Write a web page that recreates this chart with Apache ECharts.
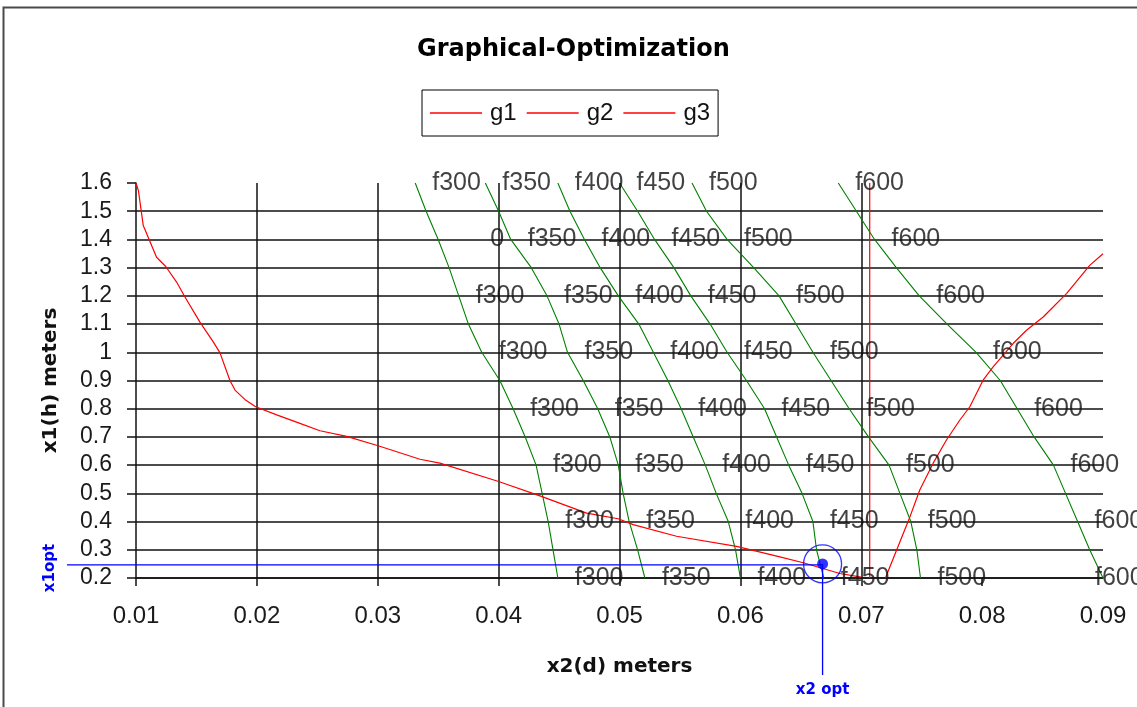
<!DOCTYPE html>
<html>
<head>
<meta charset="utf-8">
<script src="https://cdn.jsdelivr.net/npm/echarts@6/dist/echarts.min.js"></script>
<style>html,body{margin:0;padding:0;background:#fff;}#c{width:1137px;height:707px;}</style>
</head>
<body>
<div id="c"></div>
<script>
// ---- data ----
const xTicks = [0.01, 0.02, 0.03, 0.04, 0.05, 0.06, 0.07, 0.08, 0.09];
const yTicks = [0.2, 0.3, 0.4, 0.5, 0.6, 0.7, 0.8, 0.9, 1.0, 1.1, 1.2, 1.3, 1.4, 1.5, 1.6];
const rowsY = [1.6, 1.5, 1.4, 1.3, 1.2, 1.1, 1.0, 0.9, 0.8, 0.7, 0.6, 0.5, 0.4, 0.3, 0.2];
const labelRows = [1.6, 1.4, 1.2, 1.0, 0.8, 0.6, 0.4, 0.2];

const fNames = ['f300', 'f350', 'f400', 'f450', 'f500', 'f600'];
const f300X = [0.0331, 0.0340, 0.0350, 0.0359, 0.0367, 0.0375, 0.0386, 0.0401, 0.0412, 0.0422, 0.0431, 0.0436, 0.0441, 0.0445, 0.0449];
const f350X = [0.0389, 0.0400, 0.0410, 0.0427, 0.0440, 0.0450, 0.0457, 0.0470, 0.0482, 0.0492, 0.0499, 0.0503, 0.0508, 0.0515, 0.0521];
const f400X = [0.0449, 0.0459, 0.0471, 0.0484, 0.0499, 0.0516, 0.0528, 0.0540, 0.0551, 0.0561, 0.0571, 0.0580, 0.0590, 0.0596, 0.0600];
const f450X = [0.0500, 0.0515, 0.0529, 0.0545, 0.0559, 0.0575, 0.0589, 0.0605, 0.0620, 0.0630, 0.0640, 0.0651, 0.0660, 0.0663, 0.0669];
const f500X = [0.0560, 0.0572, 0.0589, 0.0611, 0.0632, 0.0646, 0.0660, 0.0675, 0.0690, 0.0706, 0.0723, 0.0732, 0.0741, 0.0746, 0.0749];
const f600X = [0.0681, 0.0696, 0.0711, 0.0729, 0.0748, 0.0771, 0.0795, 0.0815, 0.0829, 0.0843, 0.0859, 0.0869, 0.0879, 0.0889, 0.0900];
const fCurvesX = [f300X, f350X, f400X, f450X, f500X, f600X];
// label text/offset overrides: [curve, row, text, extra offset px]
const labelOverrides = [['f300', 1.4, '0', 35], ['f600', 0.2, 'f600', -25]];

const g1X = [0.0100, 0.0102, 0.0106, 0.0117, 0.01246, 0.01336, 0.01405, 0.01529, 0.01639, 0.01695, 0.01777, 0.01819, 0.0190, 0.0199, 0.02164, 0.02356, 0.02522, 0.02743, 0.0301, 0.03349, 0.03514, 0.0400, 0.04342, 0.04728, 0.04989, 0.05113, 0.05472, 0.05968, 0.06327, 0.0652, 0.06823, 0.0700];
const g1Y = [1.600, 1.573, 1.449, 1.337, 1.304, 1.249, 1.196, 1.107, 1.037, 0.998, 0.900, 0.866, 0.833, 0.807, 0.778, 0.748, 0.722, 0.702, 0.668, 0.621, 0.607, 0.542, 0.491, 0.430, 0.410, 0.389, 0.348, 0.312, 0.275, 0.254, 0.216, 0.203];
const g2X = [0.0707, 0.0707];
const g2Y = [0.2, 1.6];
const g3X = [0.0720, 0.07394, 0.07485, 0.07595, 0.07705, 0.07816, 0.07898, 0.08008, 0.08091, 0.08256, 0.08367, 0.08505, 0.08698, 0.0889, 0.0900];
const g3Y = [0.200, 0.407, 0.513, 0.607, 0.689, 0.760, 0.807, 0.901, 0.948, 1.031, 1.078, 1.125, 1.208, 1.308, 1.349];

const optX = 0.0668;
const optY = 0.25;

// ---- build ----
const REG = 'Liberation Sans';
const BOLD = 'DejaVu Sans';
const zip = (xs, ys) => xs.map((x, i) => [x, ys[i]]);

const series = [];
[['g1', g1X, g1Y], ['g2', g2X, g2Y], ['g3', g3X, g3Y]].forEach(([n, xs, ys]) => {
  series.push({
    name: n, type: 'line', data: zip(xs, ys), symbol: 'none', z: 4,
    lineStyle: { color: '#ff0000', width: 1.2 }, itemStyle: { color: '#ff0000' }
  });
});
fNames.forEach((n, k) => {
  series.push({
    name: n, type: 'line', data: zip(fCurvesX[k], rowsY), symbol: 'none', z: 3,
    lineStyle: { color: '#008000', width: 1.1 }, itemStyle: { color: '#008000' }
  });
});
const labelData = [];
fNames.forEach((n, k) => {
  labelRows.forEach(r => {
    const idx = rowsY.findIndex(v => Math.abs(v - r) < 1e-9);
    const ov = labelOverrides.find(o => o[0] === n && Math.abs(o[1] - r) < 1e-9);
    const item = { value: [fCurvesX[k][idx], r], name: ov ? ov[2] : n };
    if (ov) item.label = { offset: [ov[3], 0] };
    labelData.push(item);
  });
});
series.push({
  name: 'labels', type: 'scatter', data: labelData, symbolSize: 0, silent: true, z: 5,
  itemStyle: { color: 'rgba(0,0,0,0)' },
  label: {
    show: true, position: 'right', distance: 17, formatter: p => p.name,
    fontFamily: REG, fontSize: 25, color: '#111'
  }
});
series.push({
  name: 'optCircle', type: 'scatter', data: [[optX, optY]], symbolSize: 38, silent: true, z: 6,
  itemStyle: { color: 'rgba(0,0,0,0)', borderColor: '#0000ff', borderWidth: 1.3 }
});
series.push({
  name: 'opt', type: 'scatter', data: [[optX, optY]], symbolSize: 11, silent: true, z: 7,
  itemStyle: { color: '#0000ff' }
});

const chart = echarts.init(document.getElementById('c'), null, { renderer: 'canvas' });
const option = {
  animation: false,
  backgroundColor: '#fff',
  title: {
    text: 'Graphical-Optimization', left: 417, top: 38, padding: 0,
    textStyle: { fontFamily: BOLD, fontWeight: 'bold', fontSize: 24, color: '#000' }
  },
  legend: {
    data: ['g1', 'g2', 'g3'], left: 422, top: 90, orient: 'horizontal',
    borderColor: '#000', borderWidth: 1, padding: [11, 8, 11, 8],
    icon: 'rect', itemWidth: 52, itemHeight: 1.5, itemGap: 10,
    textStyle: { fontFamily: REG, fontSize: 24, color: '#111', padding: [0, 0, 0, 3] }
  },
  grid: { left: 136, top: 183, right: 34, bottom: 129, containLabel: false },
  xAxis: {
    type: 'value', min: 0.01, max: 0.09, interval: 0.01,
    name: 'x2(d) meters', nameLocation: 'middle', nameGap: 79,
    nameTextStyle: { fontFamily: BOLD, fontWeight: 'bold', fontSize: 20, color: '#111' },
    axisLine: { show: true, onZero: false, lineStyle: { color: '#111', width: 1.5 } },
    axisTick: { show: true, inside: false, length: 8, customValues: xTicks.slice(0, 8), lineStyle: { color: '#111', width: 1.5 } },
    axisLabel: { customValues: xTicks, margin: 26, fontFamily: REG, fontSize: 24, color: '#1a1a1a', formatter: v => v.toFixed(2) },
    splitLine: { show: true, showMinLine: false, showMaxLine: false, lineStyle: { color: '#111', width: 1.5 } }
  },
  yAxis: {
    type: 'value', min: 0.2, max: 1.6, interval: 0.1,
    name: 'x1(h) meters', nameLocation: 'middle', nameGap: 75,
    nameTextStyle: { fontFamily: BOLD, fontWeight: 'bold', fontSize: 20, color: '#111' },
    axisLine: { show: true, onZero: false, lineStyle: { color: '#111', width: 1.5 } },
    axisTick: { show: true, inside: false, length: 9, customValues: yTicks, lineStyle: { color: '#111', width: 1.5 } },
    axisLabel: { customValues: yTicks, margin: 24, fontFamily: REG, fontSize: 23, color: '#1a1a1a', formatter: v => String(+v.toFixed(1)) },
    splitLine: { show: true, showMinLine: true, showMaxLine: false, lineStyle: { color: '#111', width: 1.5 } }
  },
  series: series
};
chart.setOption(option);

// optimum guide lines outside the plot, positioned through the axes
const p = chart.convertToPixel({ gridIndex: 0 }, [optX, optY]);
chart.setOption({
  graphic: [
    { type: 'rect', shape: { x: 3.5, y: 7.5, width: 1300, height: 900 }, style: { fill: null, stroke: '#4a4a4a', lineWidth: 2 }, silent: true, z: 100 },
    { type: 'line', shape: { x1: 67, y1: p[1] + 1, x2: p[0], y2: p[1] + 1 }, style: { stroke: '#0000ff', lineWidth: 1.3 }, z: 50 },
    { type: 'line', shape: { x1: p[0], y1: p[1], x2: p[0], y2: 675 }, style: { stroke: '#0000ff', lineWidth: 1.3 }, z: 50 },
    { type: 'text', x: p[0], y: 690, style: { text: 'x2 opt', fontFamily: BOLD, fontWeight: 'bold', fontSize: 15, fill: '#0000ff', align: 'center', verticalAlign: 'middle' }, z: 50 },
    { type: 'text', x: 50, y: 568, rotation: Math.PI / 2, style: { text: 'x1opt', fontFamily: BOLD, fontWeight: 'bold', fontSize: 15, fill: '#0000ff', align: 'center', verticalAlign: 'middle' }, z: 50 }
  ]
});
</script>
</body>
</html>
